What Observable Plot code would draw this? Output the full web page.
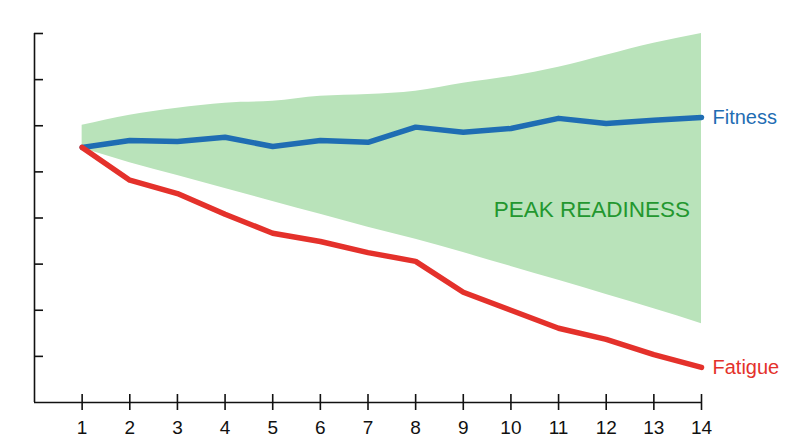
<!DOCTYPE html>
<html><head><meta charset="utf-8">
<script src="https://cdn.jsdelivr.net/npm/d3@7"></script>
<script src="https://cdn.jsdelivr.net/npm/@observablehq/plot@0.6"></script>
<style>body{margin:0;background:#fff}</style>
</head><body><div id="chart"></div>
<script>
const days = [1, 2, 3, 4, 5, 6, 7, 8, 9, 10, 11, 12, 13, 14];
const fitness = [5.53, 5.68, 5.66, 5.75, 5.55, 5.68, 5.64, 5.97, 5.86, 5.94, 6.16, 6.05, 6.12, 6.18];
const fatigue = [5.53, 4.82, 4.53, 4.08, 3.67, 3.49, 3.25, 3.06, 2.39, 2.00, 1.61, 1.37, 1.04, 0.76];
const bandUpper = [6.01, 6.23, 6.38, 6.49, 6.53, 6.64, 6.68, 6.75, 6.92, 7.07, 7.27, 7.53, 7.79, 8.00];
const bandLower = [5.51, 5.20, 4.92, 4.64, 4.36, 4.08, 3.80, 3.54, 3.25, 2.95, 2.65, 2.34, 2.03, 1.71];
const xTicks = [1, 2, 3, 4, 5, 6, 7, 8, 9, 10, 11, 12, 13, 14];
const yTicks = [1, 2, 3, 4, 5, 6, 7, 8];
const seriesNames = ["Fitness", "Fatigue"];
const annotationText = ["PEAK READINESS"];
const annotationX = [11.7];
const annotationY = [4.17];

const blue = "#1f6db3", red = "#e4312b", bandFill = "#b9e3ba", textGreen = "#23972f";

const rows = days.map((d, i) => ({day: d, fitness: fitness[i], fatigue: fatigue[i], upper: bandUpper[i], lower: bandLower[i]}));
const last = rows[rows.length - 1];
const endLabels = [
  {name: seriesNames[0], day: last.day, v: last.fitness, c: blue},
  {name: seriesNames[1], day: last.day, v: last.fatigue, c: red}
];
const ann = annotationText.map((t, i) => ({t, x: annotationX[i], y: annotationY[i]}));

const chart = Plot.plot({
  width: 800, height: 447,
  marginLeft: 34, marginRight: 99, marginTop: 33, marginBottom: 45,
  x: {domain: [0, 14]},
  y: {domain: [0, 8]},
  style: {fontFamily: "'Liberation Sans', Arial, sans-serif", fontSize: "19px", color: "#111", background: "#fff"},
  marks: [
    Plot.areaY(rows, {x: "day", y1: "lower", y2: "upper", fill: bandFill, curve: "monotone-x"}),
    Plot.line(rows, {x: "day", y: "fitness", stroke: blue, strokeWidth: 5.5, strokeLinejoin: "round"}),
    Plot.line(rows, {x: "day", y: "fatigue", stroke: red, strokeWidth: 5.5, strokeLinejoin: "round"}),
    Plot.ruleX([0], {stroke: "#111", strokeWidth: 1.6}),
    Plot.ruleY([0], {stroke: "#111", strokeWidth: 1.6}),
    Plot.axisX({ticks: xTicks, tickSize: 16, dy: -8, tickPadding: 10, label: null, strokeWidth: 1.6, fontSize: 19}),
    Plot.axisY({ticks: yTicks, tickSize: 9, dx: 9, tickFormat: () => "", label: null, strokeWidth: 1.6}),
    Plot.text(endLabels, {x: "day", y: "v", text: "name", fill: "c", dx: 11, textAnchor: "start", fontSize: 20}),
    Plot.text(ann, {x: "x", y: "y", text: "t", fill: textGreen, fontSize: 22.5})
  ]
});
document.getElementById("chart").append(chart);
</script>
</body></html>
